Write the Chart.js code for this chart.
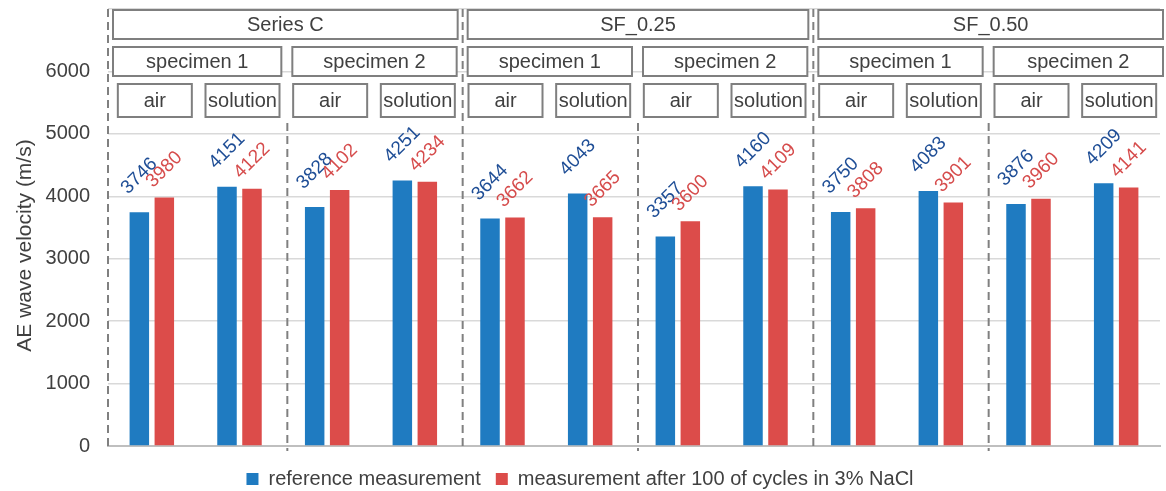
<!DOCTYPE html>
<html>
<head>
<meta charset="utf-8">
<title>AE wave velocity</title>
<script src="https://cdn.jsdelivr.net/npm/chart.js@4"></script>
<style>
  html, body { margin: 0; padding: 0; background: #fff; }
  #wrap { width: 1166px; height: 491px; position: relative; }
</style>
</head>
<body>
<div id="wrap"><canvas id="aeChart"></canvas></div>
<script>
// chart data
const conditions = ['air', 'solution', 'air', 'solution', 'air', 'solution', 'air', 'solution', 'air', 'solution', 'air', 'solution'];
const specimens = ['specimen 1', 'specimen 2', 'specimen 1', 'specimen 2', 'specimen 1', 'specimen 2'];
const seriesNames = ['Series C', 'SF_0.25', 'SF_0.50'];
const referenceValues = [3746, 4151, 3828, 4251, 3644, 4043, 3357, 4160, 3750, 4083, 3876, 4209];
const afterCyclesValues = [3980, 4122, 4102, 4234, 3662, 3665, 3600, 4109, 3808, 3901, 3960, 4141];
const legendNames = ['reference measurement', 'measurement after 100 of cycles in 3% NaCl'];
const yTicks = [0, 1000, 2000, 3000, 4000, 5000, 6000];
const yMax = 7000;

const FONT = "'Liberation Sans', Arial, sans-serif";
const TEXT = '#404040';

// header rows above the bars (top, height)
const rows = [[10, 29], [47, 29], [84, 33]];

function drawBox(ctx, x1, x2, top, h, text) {
    ctx.fillStyle = '#fff';
    ctx.fillRect(x1, top, x2 - x1, h);
    ctx.strokeStyle = '#7f7f7f';
    ctx.lineWidth = 2;
    ctx.strokeRect(x1, top, x2 - x1, h);
    ctx.fillStyle = TEXT;
    ctx.fillText(text, (x1 + x2) / 2, top + h / 2 + 1);
}

// dashed separators, header boxes and axis title
const headerPlugin = {
    id: 'headers',
    afterDatasetsDraw(chart) {
        const ctx = chart.ctx;
        const xs = chart.scales.x;
        const ys = chart.scales.y;
        const area = chart.chartArea;
        const step = (xs.right - xs.left) / conditions.length;
        const edge = i => xs.left + i * step + (i > 0 ? 4 : 0);
        const rightEnd = chart.width - 3;

        ctx.save();
        ctx.strokeStyle = '#808080';
        ctx.lineWidth = 2;
        ctx.setLineDash([8, 5]);
        for (let i = 0; i < conditions.length; i += 2) {
            const top = i % 4 === 0 ? area.top : rows[2][0] + rows[2][1] + 6;
            ctx.beginPath();
            ctx.moveTo(edge(i), top);
            ctx.lineTo(edge(i), area.bottom + 5);
            ctx.stroke();
        }
        ctx.setLineDash([]);

        ctx.font = '20px ' + FONT;
        ctx.textAlign = 'center';
        ctx.textBaseline = 'middle';

        seriesNames.forEach((name, k) => {
            const x1 = edge(k * 4) + 5;
            const x2 = k === seriesNames.length - 1 ? rightEnd : edge(k * 4 + 4) - 5;
            drawBox(ctx, x1, x2, rows[0][0], rows[0][1], name);
        });
        specimens.forEach((name, k) => {
            const x1 = edge(k * 2) + 5;
            const x2 = k === specimens.length - 1 ? rightEnd : edge(k * 2 + 2) - 6;
            drawBox(ctx, x1, x2, rows[1][0], rows[1][1], name);
        });
        conditions.forEach((name, i) => {
            const c = xs.getPixelForValue(i) + 3;
            drawBox(ctx, c - 37, Math.min(c + 37, rightEnd), rows[2][0], rows[2][1], name);
        });

        // y axis title
        ctx.translate(25, (ys.getPixelForValue(0) + ys.getPixelForValue(yMax)) / 2 + 18);
        ctx.rotate(-Math.PI / 2);
        ctx.font = '21px ' + FONT;
        ctx.fillStyle = TEXT;
        ctx.fillText('AE wave velocity (m/s)', 0, 0);
        ctx.restore();
    }
};

// rotated value labels over the bars
const labelPlugin = {
    id: 'barLabels',
    afterDatasetsDraw(chart) {
        const ctx = chart.ctx;
        chart.data.datasets.forEach((ds, di) => {
            chart.getDatasetMeta(di).data.forEach((bar, i) => {
                ctx.save();
                ctx.translate(bar.x, bar.y - ds.labelLift);
                ctx.rotate(-Math.PI / 4);
                ctx.font = '19px ' + FONT;
                ctx.fillStyle = ds.labelColor;
                ctx.textAlign = 'center';
                ctx.textBaseline = 'middle';
                ctx.fillText(ds.data[i], 0, 0);
                ctx.restore();
            });
        });
    }
};

const ctx = document.getElementById('aeChart').getContext('2d');
new Chart(ctx, {
    type: 'bar',
    data: {
        labels: conditions,
        datasets: [{
            label: legendNames[0],
            data: referenceValues,
            backgroundColor: '#1f7bc1',
            labelColor: '#1f4e96',
            labelLift: 36
        }, {
            label: legendNames[1],
            data: afterCyclesValues,
            backgroundColor: '#dc4c4a',
            labelColor: '#d64c4c',
            labelLift: 28
        }]
    },
    options: {
        responsive: true,
        maintainAspectRatio: false,
        animation: false,
        categoryPercentage: 0.57,
        barPercentage: 0.78,
        layout: { padding: { top: 9, right: 6, left: 0, bottom: -8 } },
        plugins: {
            legend: {
                position: 'bottom',
                labels: {
                    boxWidth: 12,
                    boxHeight: 12,
                    padding: 15,
                    color: TEXT,
                    font: { family: FONT, size: 20 }
                }
            },
            tooltip: { enabled: false }
        },
        scales: {
            x: {
                grid: { display: false },
                ticks: { display: false },
                border: { color: '#bfbfbf', width: 2 },
                afterFit: scale => { scale.height = 8; }
            },
            y: {
                min: 0,
                max: yMax,
                grid: { color: '#d9d9d9', lineWidth: 1.5, drawTicks: false },
                border: { display: false },
                afterBuildTicks: scale => {
                    scale.ticks = yTicks.concat([yMax]).map(v => ({ value: v }));
                },
                ticks: {
                    padding: 18,
                    color: TEXT,
                    font: { family: FONT, size: 20 },
                    callback: v => (yTicks.includes(v) ? v : '')
                },
                afterFit: scale => {
                    scale.width = 108;
                    scale.paddingTop = 0;
                    scale.paddingBottom = 0;
                }
            }
        }
    },
    plugins: [headerPlugin, labelPlugin]
});
</script>
</body>
</html>
